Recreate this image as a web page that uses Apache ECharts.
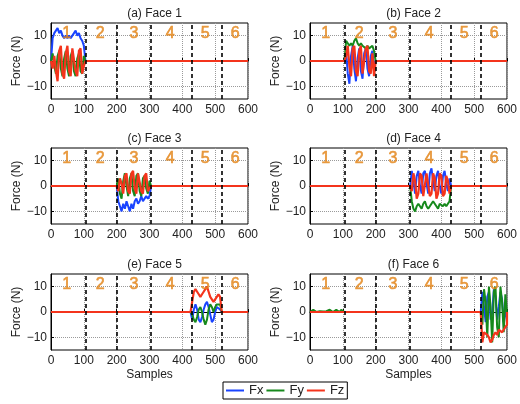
<!DOCTYPE html>
<html>
<head>
<meta charset="utf-8">
<script src="https://cdn.jsdelivr.net/npm/echarts@6/dist/echarts.min.js"></script>
<style>
  html, body { margin: 0; padding: 0; background: #fff; }
  #chart { width: 520px; height: 404px; }
</style>
</head>
<body>
<div id="chart"></div>
<script>
// sample step used when reading the active segments off the picture
const step = 5;

const titles = ['(a) Face 1', '(b) Face 2', '(c) Face 3', '(d) Face 4', '(e) Face 5', '(f) Face 6'];
const boundaries = [105, 200, 305, 428, 520];
const faceLabels = ['1', '2', '3', '4', '5', '6'];
const faceLabelX = [48, 150, 253, 363, 470, 561];
const faceLabelY = 11;

// Face 1: active 0..105
const face1Start = 0;
const face1Fx = [0, 9, 11, 12, 13, 11, 12, 10, 9, 10, 9, 10, 9, 10, 11, 12, 10, 11, 9, 8, 6, 0];
const face1Fy = [0, 3, -2, -5, 2, 4, -3, -6, 1, 4, -3, -6, 2, 4, -4, -6, 1, 3, -4, -5, 2, 0];
const face1Fz = [0, -3, 2, -4, -8, 4, 6, -5, -7, 3, 6, -4, -6, 5, 5, -4, -6, 4, 5, -5, -2, 0];

// Face 2: active 105..200
const face2Start = 105;
const face2Fx = [0, 4, -5, -9, 2, 6, -3, -8, 1, 5, -4, -7, 3, 5, -3, -6, 2, 4, -2, 0];
const face2Fy = [0, 8, 7, 6, 7, 6, 8, 9, 7, 6, 7, 6, 6, 5, 6, 5, 5, 6, 4, 0];
const face2Fz = [0, 2, 6, -2, -6, 5, 6, -4, -6, 4, 6, -5, -5, 5, 6, -4, -5, 3, -6, 0];

// Face 3: active 200..305
const face3Start = 200;
const face3Fx = [0, -6, -8, -10, -7, -9, -6, -8, -10, -7, -9, -6, -5, -7, -6, -4, -6, -5, -4, -5, -4, 0];
const face3Fy = [0, 3, -3, -5, 2, 5, 0, -4, 3, 5, -2, -4, 4, 5, -2, -4, 3, 4, -1, -3, 2, 0];
const face3Fz = [0, -2, 3, 1, -3, 4, 5, -2, -3, 5, 6, -1, -3, 5, 5, -2, -3, 4, 5, -2, -1, 0];

// Face 4: active 305..430
const face4Start = 305;
const face4Fx = [0, 6, 2, -3, 4, 6, 0, -3, 5, 6, 1, -3, 5, 7, 2, -2, 4, 6, 0, -3, 4, 6, 1, -2, 3, 0];
const face4Fy = [0, -6, -9, -10, -8, -7, -8, -9, -7, -6, -8, -9, -8, -7, -6, -7, -8, -9, -7, -7, -8, -7, -8, -7, -6, 0];
const face4Fz = [0, -2, 5, 2, -5, -3, 5, 4, -4, -4, 5, 5, -4, -3, 5, 3, -5, -3, 5, 4, -4, -3, 4, 2, -3, 0];

// Face 5: active 425..520
const face5Start = 425;
const face5Fx = [0, -3, 1, 3, 1, -3, -4, -2, 1, 3, 4, 2, -1, -4, -3, 0, 2, 2, 1, 0];
const face5Fy = [0, -1, -3, -4, -2, 1, 2, 0, -3, -5, -3, 1, 3, 2, 0, 2, 3, 3, 3, 0];
const face5Fz = [0, 4, 8, 9, 8, 7, 6, 7, 8, 9, 10, 8, 6, 5, 4, 5, 6, 7, 6, 0];

// Face 6: active 520..600, plus small Fy bumps early on
const face6Start = 520;
const face6Fx = [0, 8, 2, -4, 6, 8, -3, 0, 9, 6, -3, 2, 8, 5, -4, 2, -4];
const face6Fy = [0, -5, 9, 4, -10, 10, 2, -12, 8, 10, -6, -10, 10, 4, -8, 7, -1];
const face6Fz = [0, -12, -8, -8, -9, -10, -12, -11, -9, -8, -9, -7, -7, -8, -7, -6, -5];
const face6FyBumpStart = 0;
const face6FyBump = [0, 0.3, 0.9, 0.3, 0, 0.2, 0.3, 0.9, 0.2, 0, 0.3, 0, 0.9, 0.2, 0, 0.3, 0.9, 0.4, 0, 0.8, 0.2, 0];

const faces = [
  { start: face1Start, fx: face1Fx, fy: face1Fy, fz: face1Fz },
  { start: face2Start, fx: face2Fx, fy: face2Fy, fz: face2Fz },
  { start: face3Start, fx: face3Fx, fy: face3Fy, fz: face3Fz },
  { start: face4Start, fx: face4Fx, fy: face4Fy, fz: face4Fz },
  { start: face5Start, fx: face5Fx, fy: face5Fy, fz: face5Fz },
  { start: face6Start, fx: face6Fx, fy: face6Fy, fz: face6Fz },
];

const colors = { Fx: '#1a44ff', Fy: '#16891c', Fz: '#f4341c' };
const orange = '#e3861a';
const font = 'Liberation Sans, Arial, sans-serif';

// flat at zero outside the active segment(s)
function toPoints(segments) {
  const pts = [[0, 0]];
  segments.forEach(([start, vals]) => {
    vals.forEach((v, i) => pts.push([start + i * step, v]));
  });
  pts.push([600, 0]);
  return pts;
}

const cols = [51, 310];
const rows = [23, 148, 274];
const gridW = 197;
const gridH = 76;

const grids = [];
const xAxes = [];
const yAxes = [];
const series = [];
const title = [];

faces.forEach((f, i) => {
  const left = cols[i % 2];
  const top = rows[Math.floor(i / 2)];
  grids.push({
    left, top, width: gridW, height: gridH,
    show: true, borderColor: '#000', borderWidth: 1, backgroundColor: 'transparent',
  });
  title.push({
    text: titles[i],
    left: left + gridW / 2,
    top: top - 20,
    textAlign: 'center',
    textStyle: { fontFamily: font, fontSize: 12, fontWeight: 'normal', color: '#222' },
  });
  xAxes.push({
    gridIndex: i,
    type: 'value',
    min: 0, max: 600, interval: 100,
    name: i >= 4 ? 'Samples' : '',
    nameLocation: 'middle',
    nameGap: 19,
    nameTextStyle: { fontFamily: font, fontSize: 12, color: '#222' },
    axisLine: { lineStyle: { color: '#000' } },
    axisTick: { inside: true, length: 3, lineStyle: { color: '#000' } },
    axisLabel: { fontFamily: font, fontSize: 12, color: '#222', margin: 5 },
    splitLine: { show: true, lineStyle: { type: 'dotted', color: '#9a9a9a' } },
  });
  yAxes.push({
    gridIndex: i,
    type: 'value',
    min: -15, max: 15,
    name: 'Force (N)',
    nameLocation: 'middle',
    nameGap: 20,
    nameTextStyle: { fontFamily: font, fontSize: 12, color: '#222' },
    axisLine: { lineStyle: { color: '#000' } },
    axisTick: { inside: true, length: 3, customValues: [-10, 0, 10], lineStyle: { color: '#000' } },
    axisLabel: {
      fontFamily: font, fontSize: 12, color: '#222', margin: 4,
      customValues: [-10, 0, 10],
      formatter: (v) => String(v).replace('-', '\u2212'),
    },
    splitLine: { show: true, lineStyle: { type: 'dotted', color: '#9a9a9a' } },
  });

  const fySegs = [[f.start, f.fy]];
  if (i === 5) fySegs.unshift([face6FyBumpStart, face6FyBump]);

  const lineBase = { type: 'line', xAxisIndex: i, yAxisIndex: i, showSymbol: false, animation: false };
  series.push({ ...lineBase, name: 'Fx', data: toPoints([[f.start, f.fx]]),
    lineStyle: { color: colors.Fx, width: 2 }, itemStyle: { color: colors.Fx } });
  series.push({ ...lineBase, name: 'Fy', data: toPoints(fySegs),
    lineStyle: { color: colors.Fy, width: 2 }, itemStyle: { color: colors.Fy } });
  series.push({ ...lineBase, name: 'Fz', data: toPoints([[f.start, f.fz]]),
    lineStyle: { color: colors.Fz, width: 2.2 }, itemStyle: { color: colors.Fz },
    markLine: {
      silent: true, symbol: 'none', label: { show: false },
      lineStyle: { color: '#000', type: [4, 3], width: 1.6 },
      data: boundaries.map((b) => ({ xAxis: b })),
    },
  });
  series.push({
    type: 'scatter', xAxisIndex: i, yAxisIndex: i, symbolSize: 0, animation: false, silent: true,
    z: 5,
    itemStyle: { color: orange },
    data: faceLabelX.map((x, k) => ({ value: [x, faceLabelY], name: faceLabels[k] })),
    label: {
      show: true, position: 'inside', formatter: '{b}', color: orange,
      textBorderColor: orange, textBorderWidth: 0.6, fontFamily: font, fontSize: 16,
    },
  });
});

const chart = echarts.init(document.getElementById('chart'));
chart.setOption({
  backgroundColor: '#fff',
  animation: false,
  title,
  grid: grids,
  xAxis: xAxes,
  yAxis: yAxes,
  legend: {
    data: ['Fx', 'Fy', 'Fz'],
    left: 223, top: 382,
    icon: 'rect', itemWidth: 18, itemHeight: 2, itemGap: 3,
    borderColor: '#000', borderWidth: 1, borderRadius: 0,
    padding: [2, 3],
    textStyle: { fontFamily: font, fontSize: 13, color: '#222' },
  },
  series,
});
</script>
</body>
</html>
